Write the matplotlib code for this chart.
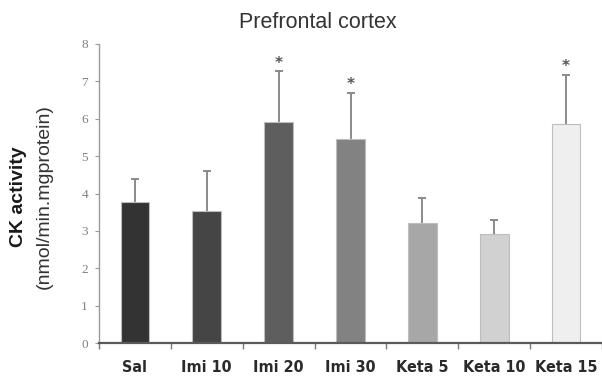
import numpy as np
import matplotlib
matplotlib.use("Agg")
import matplotlib.pyplot as plt
from matplotlib.ticker import FixedLocator

# group means and upper SEM bounds (CK activity)
groups = ["Sal", "Imi 10", "Imi 20", "Imi 30", "Keta 5", "Keta 10", "Keta 15"]
means = [3.77, 3.53, 5.92, 5.45, 3.20, 2.92, 5.85]
upper = [4.40, 4.60, 7.27, 6.70, 3.87, 3.30, 7.18]
signif = [False, False, True, True, False, False, True]
shades = ["#333333", "#454545", "#5e5e5e", "#828282", "#a7a7a7", "#d1d1d1", "#efefef"]

x = np.arange(len(groups))

fig = plt.figure(figsize=(6.02, 3.76), dpi=100)
ax = fig.add_axes([99/602, 1 - 343/376, 1 - 99/602, (343 - 44)/376])

ax.bar(x, means, width=0.4, color=shades, edgecolor="#bdbdbd", linewidth=0.8, zorder=2)

# upper-only error bars: stem from bar top to the bound, with a small cap
ax.vlines(x, means, upper, color="#8a8a8a", linewidth=1.4, zorder=1)
ax.scatter(x, upper, marker="_", s=30, color="#8a8a8a", linewidths=1.4, zorder=1)

for xi, top, s in zip(x, upper, signif):
    if s:
        ax.text(xi, top + 0.02, "*", ha="center", va="bottom",
                fontsize=11, fontweight="bold", color="#555555")

ax.set_xlim(-0.5, len(groups) - 0.5)
ax.set_ylim(0, 8)

# axes styling
for side in ["top", "right"]:
    ax.spines[side].set_visible(False)
ax.spines["left"].set_color("#9a9a9a")
ax.spines["left"].set_linewidth(1.0)
ax.spines["bottom"].set_color("#5a5a5a")
ax.spines["bottom"].set_linewidth(1.6)

ax.set_yticks(range(0, 9))
ax.tick_params(axis="y", direction="out", length=3, color="#9a9a9a",
               labelsize=9.5, labelcolor="#808080", pad=5)
for lab in ax.get_yticklabels():
    lab.set_family("Liberation Serif")

ax.set_xticks(x)
ax.set_xticklabels(groups, fontsize=11.5, fontweight="bold", color="#2a2a2a",
                   family="DejaVu Sans", fontstretch="condensed")
ax.tick_params(axis="x", which="major", length=0, pad=12)
ax.xaxis.set_minor_locator(FixedLocator(np.arange(-0.5, len(groups), 1.0)))
ax.tick_params(axis="x", which="minor", direction="out", length=4, color="#7a7a7a", width=1)

fig.text(318/602, 1 - 23/376, "Prefrontal cortex", ha="center", va="center",
         fontsize=15.5, color="#333333", family="Liberation Sans")
fig.text(19/602, 1 - 197/376, "CK activity", rotation=90, ha="center", va="center",
         fontsize=14, fontweight="bold", color="#1a1a1a", family="Liberation Sans")
fig.text(44/602, 1 - 197/376, "(nmol/min.mgprotein)", rotation=90, ha="center", va="center",
         fontsize=14, color="#333333", family="Liberation Sans")

fig.savefig("out.png", dpi=100)
